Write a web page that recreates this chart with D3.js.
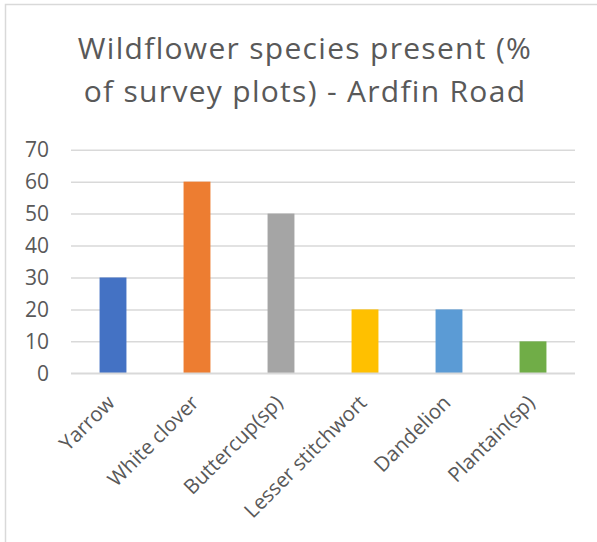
<!DOCTYPE html>
<html lang="en">
  <head>
    <meta charset="UTF-8" />
    <title>Wildflower species</title>
    <style>
      body { margin: 0; background: #fff; }
      text { font-family: "Open Sans", sans-serif; fill: #595959; }
    </style>
  </head>
  <body>
    <svg width="597" height="542"></svg>
    <script src="https://cdnjs.cloudflare.com/ajax/libs/d3/7.8.5/d3.min.js"></script>
    <script>
      var species = ["Yarrow", "White clover", "Buttercup(sp)", "Lesser stitchwort", "Dandelion", "Plantain(sp)"];
      var percent = [30, 60, 50, 20, 20, 10];
      var barColors = ["#4472C4", "#ED7D31", "#A5A5A5", "#FFC000", "#5B9BD5", "#70AD47"];
      var yTicks = [0, 10, 20, 30, 40, 50, 60, 70];
      var titleLines = ["Wildflower species present (%", "of survey plots) - Ardfin Road"];

      var svg = d3.select("svg");

      // chart frame (runs off the right and bottom of the picture)
      svg.append("rect")
        .attr("x", 5.5).attr("y", 4.5)
        .attr("width", 620).attr("height", 560)
        .attr("fill", "none")
        .attr("stroke", "#d9d9d9")
        .attr("stroke-width", 1.5);

      var x = d3.scaleBand()
        .domain(species)
        .range([71, 575])
        .paddingInner(0.68)
        .paddingOuter(0.34);

      var y = d3.scaleLinear()
        .domain([0, 70])
        .range([373.3, 149.7]);

      svg.append("g")
        .selectAll("text")
        .data(titleLines)
        .enter()
        .append("text")
        .attr("x", 305)
        .attr("y", function (d, i) { return 59 + i * 42.5; })
        .attr("text-anchor", "middle")
        .style("font-size", "30px")
        .style("letter-spacing", "1.3px")
        .text(function (d) { return d; });

      var yAxis = svg.append("g")
        .attr("transform", "translate(71,0)")
        .call(d3.axisLeft(y).tickValues(yTicks).tickSize(-504).tickPadding(22));
      yAxis.select(".domain").remove();
      yAxis.selectAll(".tick line")
        .attr("stroke", "#d9d9d9")
        .attr("stroke-width", 1.5);
      yAxis.selectAll(".tick text")
        .style("font-size", "21px")
        .style("font-family", "'Open Sans', sans-serif")
        .attr("fill", "#595959");

      svg.append("g")
        .selectAll("rect")
        .data(percent)
        .enter()
        .append("rect")
        .attr("x", function (d, i) { return x(species[i]); })
        .attr("y", function (d) { return y(d); })
        .attr("width", x.bandwidth())
        .attr("height", function (d) { return y(0) - y(d); })
        .attr("fill", function (d, i) { return barColors[i]; });

      // category axis line
      svg.append("line")
        .attr("x1", 71).attr("x2", 575)
        .attr("y1", y(0)).attr("y2", y(0))
        .attr("stroke", "#d9d9d9")
        .attr("stroke-width", 1.5);

      svg.append("g")
        .selectAll("text")
        .data(species)
        .enter()
        .append("text")
        .attr("text-anchor", "end")
        .attr("transform", function (d) {
          return "translate(" + (x(d) + x.bandwidth() / 2 + 3) + ",404) rotate(-45)";
        })
        .style("font-size", "20.5px")
        .text(function (d) { return d; });
    </script>
  </body>
</html>
